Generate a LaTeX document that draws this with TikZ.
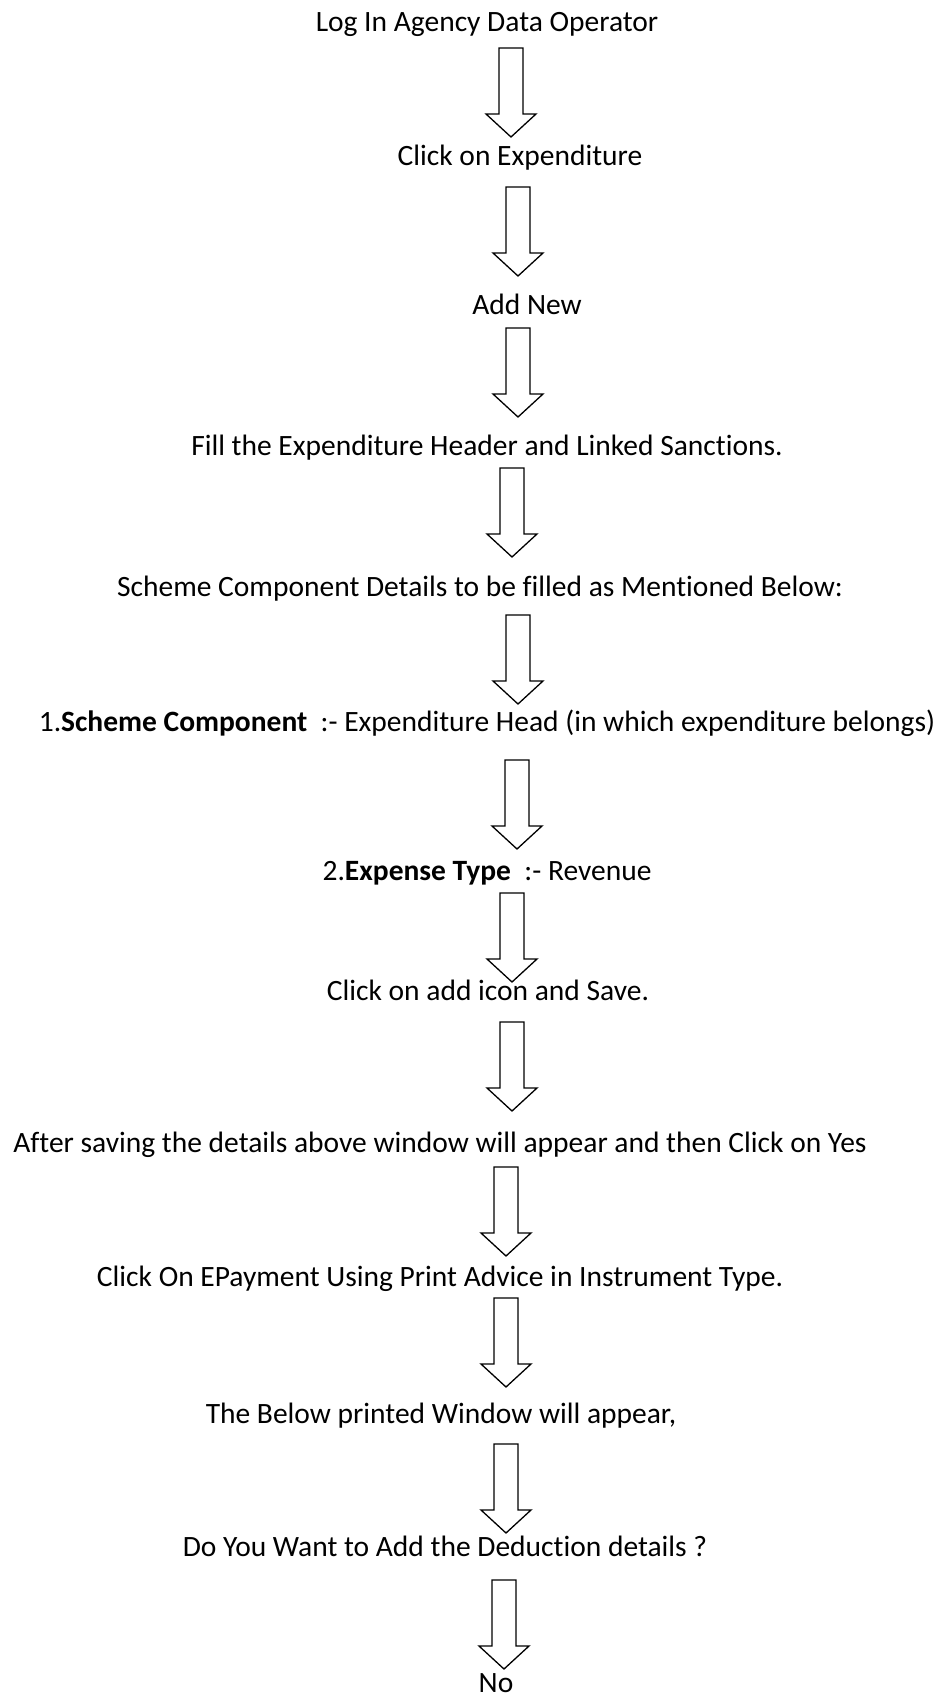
\documentclass[tikz,border=0pt]{standalone}
\usepackage{fontspec}
\setmainfont{Carlito}[Ligatures=NoCommon]

\tikzset{
  steptext/.style={anchor=base, inner sep=0pt, font=\fontsize{29.5}{34}\selectfont},
  pics/downarrow/.style={code={
    \draw[line width=1.3pt, line join=miter, fill=white]
      (-12,0) -- (12,0) -- (12,66) -- (25,66) -- (0,89) -- (-25,66) -- (-12,66) -- cycle;
  }}
}

\begin{document}
\begin{tikzpicture}[x=1pt, y=-1pt]
    \useasboundingbox (0,0) rectangle (938,1697);
    \node[steptext] (login) at (487,31) {Log In Agency Data Operator};
    \pic (arr1) at (511,48) {downarrow};
    \node[steptext] (expend) at (520,165) {Click on Expenditure};
    \pic (arr2) at (518,187) {downarrow};
    \node[steptext] (addnew) at (527,314) {Add New};
    \pic (arr3) at (518,328) {downarrow};
    \node[steptext] (header) at (487,455) {Fill the Expenditure Header and Linked Sanctions.};
    \pic (arr4) at (512,468) {downarrow};
    \node[steptext] (scheme) at (480,596) {Scheme Component Details to be filled as Mentioned Below:};
    \pic (arr5) at (518,615) {downarrow};
    \node[steptext] (comp) at (487,731) {1.\textbf{Scheme Component}\ \ :- Expenditure Head (in which expenditure belongs)};
    \pic (arr6) at (517,760) {downarrow};
    \node[steptext] (exptype) at (487,880) {2.\textbf{Expense Type}\ \ :- Revenue};
    \pic (arr7) at (512,893) {downarrow};
    \node[steptext] (save) at (488,1000) {Click on add icon and Save.};
    \pic (arr8) at (512,1022) {downarrow};
    \node[steptext] (yes) at (440,1152) {After saving the details above window will appear and then Click on Yes};
    \pic (arr9) at (506,1167) {downarrow};
    \node[steptext] (epay) at (440,1286) {Click On EPayment Using Print Advice in Instrument Type.};
    \pic (arr10) at (506,1298) {downarrow};
    \node[steptext] (window) at (441,1423) {The Below printed Window will appear,};
    \pic (arr11) at (506,1444) {downarrow};
    \node[steptext] (deduct) at (445,1556) {Do You Want to Add the Deduction details ?};
    \pic (arr12) at (504,1580) {downarrow};
    \node[steptext] (no) at (496,1692) {No};
\end{tikzpicture}
\end{document}
